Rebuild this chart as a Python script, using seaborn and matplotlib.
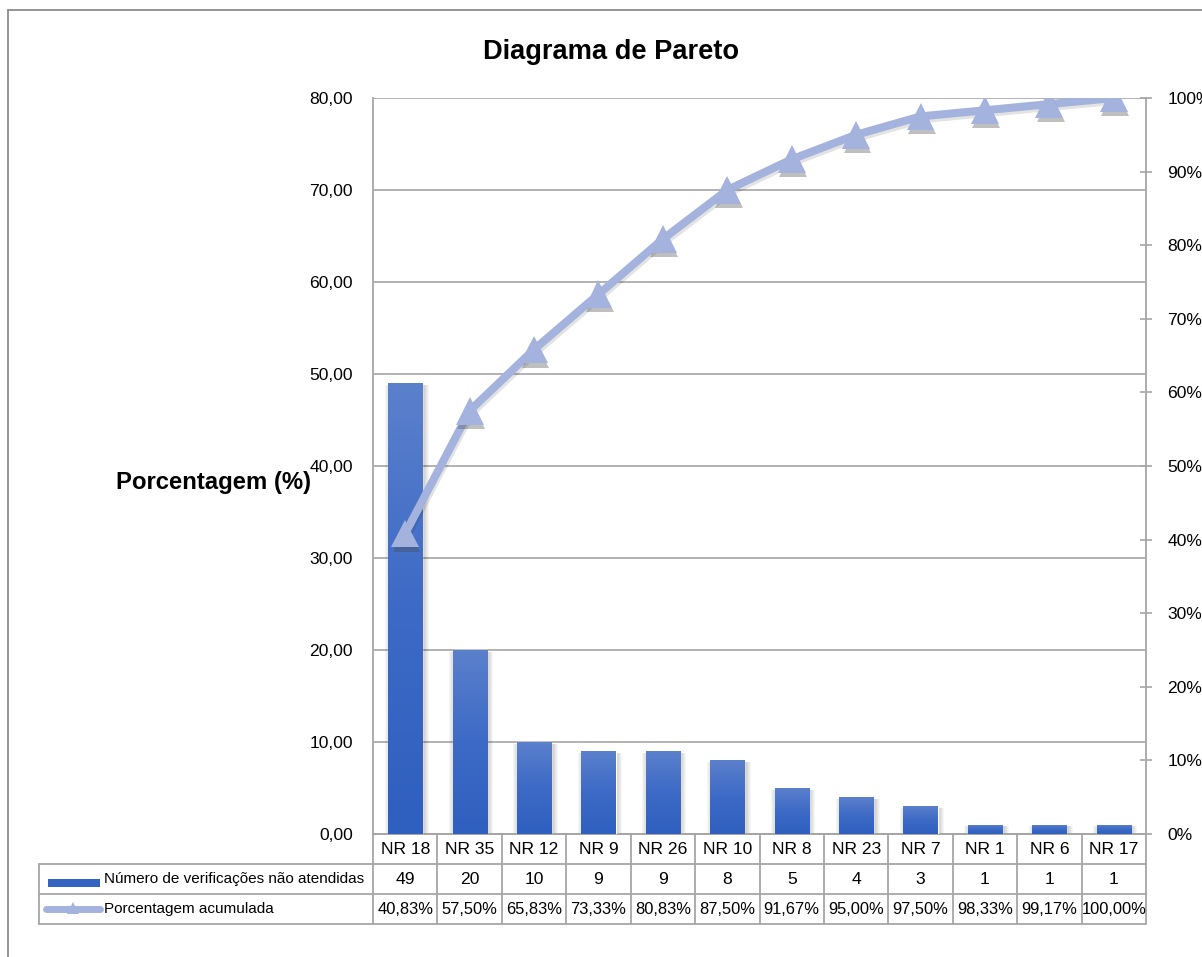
import numpy as np
import pandas as pd
import matplotlib
matplotlib.use("Agg")
import matplotlib.pyplot as plt
import matplotlib.patheffects as pe
import matplotlib.transforms as mtransforms
from matplotlib.colors import LinearSegmentedColormap
from matplotlib.patches import Rectangle
from matplotlib.lines import Line2D
from matplotlib import font_manager
import seaborn as sns

# ---- dados ----
categorias = ["NR 18", "NR 35", "NR 12", "NR 9", "NR 26", "NR 10",
              "NR 8", "NR 23", "NR 7", "NR 1", "NR 6", "NR 17"]
verificacoes = [49, 20, 10, 9, 9, 8, 5, 4, 3, 1, 1, 1]
acumulada = [40.83, 57.50, 65.83, 73.33, 80.83, 87.50,
             91.67, 95.00, 97.50, 98.33, 99.17, 100.00]
ticks_esq = [0, 10, 20, 30, 40, 50, 60, 70, 80]
rotulos_esq = ["0,00", "10,00", "20,00", "30,00", "40,00",
               "50,00", "60,00", "70,00", "80,00"]
ticks_dir = [0, 10, 20, 30, 40, 50, 60, 70, 80, 90, 100]
rotulos_dir = ["0%", "10%", "20%", "30%", "40%", "50%",
               "60%", "70%", "80%", "90%", "100%"]
rotulos_acum = ["40,83%", "57,50%", "65,83%", "73,33%", "80,83%", "87,50%",
                "91,67%", "95,00%", "97,50%", "98,33%", "99,17%", "100,00%"]
nome_barras = "Número de verificações não atendidas"
nome_linha = "Porcentagem acumulada"

# ---- estilo ----
sns.set_theme(style="white")
instaladas = {f.name for f in font_manager.fontManager.ttflist}
narrow = "Liberation Sans Narrow" in instaladas
familia = "Liberation Sans Narrow" if narrow else "Liberation Sans"
plt.rcParams["font.family"] = [familia, "DejaVu Sans"]
# a fonte estreita permite tamanhos maiores com a mesma largura
esc = 1.2 if narrow else 1.0

CINZA = "#a6a6a6"
COR_LINHA = "#a4b3dd"
azul_grad = LinearSegmentedColormap.from_list("azul", ["#2f5fbf", "#3d6ac6", "#5b80cc"])

W_PX, H_PX = 1202, 957
fig = plt.figure(figsize=(W_PX / 100, H_PX / 100), dpi=100)
fig.patch.set_facecolor("white")

# área de plotagem (pixels da figura)
AX_L, AX_R, AX_T, AX_B = 373, 1146, 98, 834
ax = fig.add_axes([AX_L / W_PX, 1 - AX_B / H_PX,
                   (AX_R - AX_L) / W_PX, (AX_B - AX_T) / H_PX])

df = pd.DataFrame({"NR": categorias, "n": verificacoes})
sns.barplot(data=df, x="NR", y="n", ax=ax, color="#3d6ac6",
            saturation=1, width=0.53, zorder=3)

n = len(categorias)
ax.set_xlim(-0.5, n - 0.5)
ax.set_ylim(0, 80)

# pixels -> unidades de dados
px_x = 1.0 / ((AX_R - AX_L) / n)
px_y = 80.0 / (AX_B - AX_T)

# sombra suave e gradiente vertical nas barras
grad = np.linspace(0, 1, 256).reshape(-1, 1)
for p in list(ax.patches):
    x0, w, h = p.get_x(), p.get_width(), p.get_height()
    for k in range(1, 6):
        ax.add_patch(Rectangle((x0 - k * px_x + 1.5 * px_x, -k * px_y),
                               w + 2 * k * px_x, h + k * px_y - 1.5 * px_y,
                               facecolor="black", edgecolor="none",
                               alpha=0.035, zorder=2, clip_on=True))
    im = ax.imshow(grad, cmap=azul_grad, origin="lower", aspect="auto",
                   extent=[x0, x0 + w, 0, h], zorder=3.5, interpolation="bilinear")
    im.set_clip_path(p)
ax.set_xlim(-0.5, n - 0.5)
ax.set_ylim(0, 80)
ax.set_aspect("auto")

# eixo esquerdo
ax.set_yticks(ticks_esq)
ax.set_yticklabels(rotulos_esq)
ax.tick_params(axis="y", length=0, pad=14.5, labelsize=12.6 * esc, colors="black")
ax.set_xticks([])
ax.set_xlabel("")
ax.yaxis.grid(True, color=CINZA, linewidth=1.2, zorder=0)
ax.set_axisbelow(True)
for s in ["top", "right"]:
    ax.spines[s].set_visible(False)
for s in ["left", "bottom"]:
    ax.spines[s].set_color(CINZA)
    ax.spines[s].set_linewidth(1.3)
ax.set_ylabel("Porcentagem (%)", rotation=0, fontsize=17.2 * esc, fontweight="bold",
              ha="center", va="center", color="black")
ax.yaxis.set_label_coords((214 - AX_L) / (AX_R - AX_L), (AX_B - 483) / (AX_B - AX_T))

# eixo direito: porcentagem acumulada
ax2 = ax.twinx()
xs = np.arange(n)
sns.lineplot(x=xs, y=acumulada, ax=ax2, color=COR_LINHA, linewidth=5.8,
             zorder=5, solid_capstyle="round",
             path_effects=[pe.SimpleLineShadow(offset=(1.0, -2.0), alpha=0.12),
                           pe.Normal()])
sns.lineplot(x=xs, y=acumulada, ax=ax2, color=COR_LINHA, linestyle="",
             marker="^", markersize=20, markeredgewidth=0, zorder=6,
             path_effects=[pe.SimplePatchShadow(offset=(1.0, -3.0), alpha=0.35,
                                                shadow_rgbFace="#4a4a4a"),
                           pe.Normal()])
ax2.set_ylim(0, 100)
ax2.set_xlim(-0.5, n - 0.5)
ax2.set_yticks(ticks_dir)
ax2.set_yticklabels(rotulos_dir)
ax2.tick_params(axis="y", direction="inout", length=9, width=1.2, color=CINZA,
                pad=11, labelsize=12.6 * esc, labelcolor="black", right=True)
ax2.grid(False)
for s in ["top", "left", "bottom"]:
    ax2.spines[s].set_visible(False)
ax2.spines["right"].set_color(CINZA)
ax2.spines["right"].set_linewidth(1.3)
ax2.set_ylabel("")

# título
fig.text(611 / W_PX, 1 - 52 / H_PX, "Diagrama de Pareto", ha="center", va="center",
         fontsize=19.6 if not narrow else 23, fontweight="bold", color="black")

# ---- tabela de dados sob o gráfico ----
def ya(py):
    return (AX_B - py) / (AX_B - AX_T)

def xa(px):
    return (px - AX_L) / (AX_R - AX_L)

blend = mtransforms.blended_transform_factory(ax.transData, ax.transAxes)
linhas_y = [834, 864, 894, 924]
TAB_L = 39

# linhas horizontais
ax.add_line(Line2D([xa(AX_L), 1], [ya(834), ya(834)], transform=ax.transAxes,
                   color=CINZA, lw=1.3, clip_on=False))
for py in linhas_y[1:]:
    ax.add_line(Line2D([xa(TAB_L), 1], [ya(py), ya(py)], transform=ax.transAxes,
                       color=CINZA, lw=1.3, clip_on=False))
# linhas verticais
for k in range(n + 1):
    ax.add_line(Line2D([k - 0.5, k - 0.5], [ya(834), ya(924)], transform=blend,
                       color=CINZA, lw=1.3, clip_on=False))
ax.add_line(Line2D([xa(TAB_L), xa(TAB_L)], [ya(864), ya(924)], transform=ax.transAxes,
                   color=CINZA, lw=1.3, clip_on=False))

fs_cat = 12.6 * esc
fs_pct = 11.9 * esc
fs_nome = 11.0 * esc
for i in range(n):
    ax.text(i, ya(849), categorias[i], transform=blend, ha="center", va="center",
            fontsize=fs_cat, color="black", clip_on=False)
    ax.text(i, ya(879), str(verificacoes[i]), transform=blend, ha="center", va="center",
            fontsize=fs_cat, color="black", clip_on=False)
    ax.text(i, ya(909), rotulos_acum[i], transform=blend, ha="center", va="center",
            fontsize=fs_pct, color="black", clip_on=False)

# chaves da legenda dentro da tabela
ax.add_patch(Rectangle((xa(48), ya(887)), xa(100) - xa(48), ya(879) - ya(887),
                       transform=ax.transAxes, facecolor="#3563c2", edgecolor="none",
                       clip_on=False))
ax.add_line(Line2D([xa(46), xa(100)], [ya(909), ya(909)], transform=ax.transAxes,
                   color=COR_LINHA, lw=5.0, solid_capstyle="round", clip_on=False))
ax.add_line(Line2D([xa(73)], [ya(908)], transform=ax.transAxes, color=COR_LINHA,
                   marker="^", markersize=9, markeredgewidth=0, clip_on=False))
ax.text(xa(104), ya(879), nome_barras, transform=ax.transAxes, ha="left", va="center",
        fontsize=fs_nome, color="black", clip_on=False)
ax.text(xa(104), ya(909), nome_linha, transform=ax.transAxes, ha="left", va="center",
        fontsize=fs_nome, color="black", clip_on=False)

# moldura da área do gráfico
fig.add_artist(Line2D([8 / W_PX, 1], [1 - 10 / H_PX, 1 - 10 / H_PX],
                      transform=fig.transFigure, color="#8c8c8c", lw=1.3))
fig.add_artist(Line2D([8 / W_PX, 8 / W_PX], [0, 1 - 10 / H_PX],
                      transform=fig.transFigure, color="#8c8c8c", lw=1.3))

fig.savefig("out.png", dpi=100, facecolor="white")
